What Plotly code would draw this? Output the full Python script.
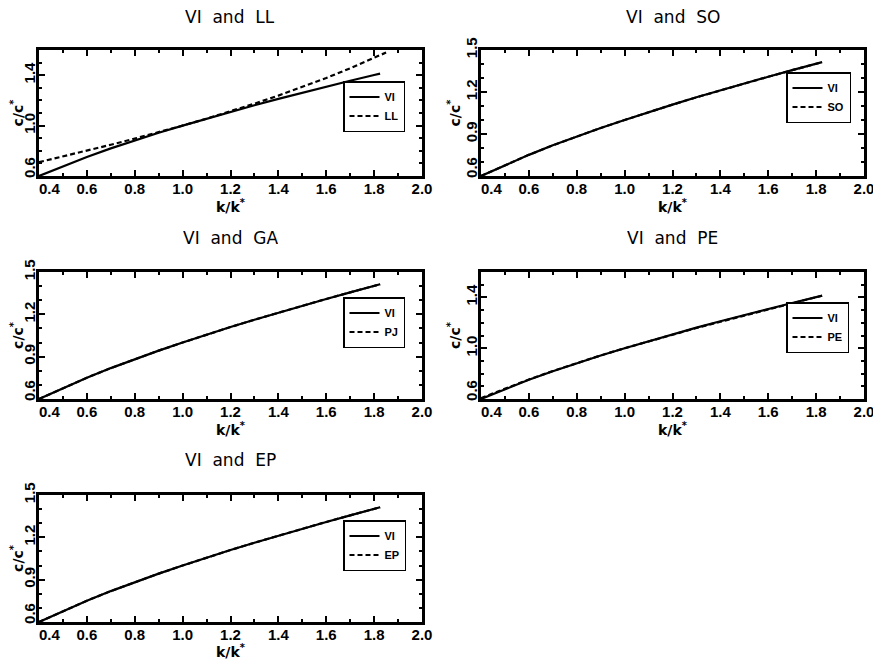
import plotly.graph_objects as go

# page has an 8px body margin: figure occupies the window minus that offset
OFF = 8
W, H = 881 - OFF, 660 - OFF

# ---------------- data ----------------
k_vi = [0.40, 0.50, 0.60, 0.70, 0.80, 0.90, 1.00, 1.10, 1.20, 1.30, 1.40, 1.50, 1.60, 1.70, 1.80, 1.825]
c_vi = [0.600, 0.678, 0.751, 0.819, 0.883, 0.943, 1.000, 1.056, 1.110, 1.162, 1.212, 1.261, 1.309, 1.356, 1.402, 1.413]

k_ll = [0.40, 0.50, 0.60, 0.70, 0.80, 0.90, 1.00, 1.10, 1.20, 1.30, 1.40, 1.50, 1.60, 1.70, 1.80, 1.85]
c_ll = [0.710, 0.755, 0.801, 0.848, 0.897, 0.947, 1.000, 1.055, 1.113, 1.174, 1.238, 1.306, 1.378, 1.455, 1.537, 1.580]

k_so = [0.40, 0.50, 0.60, 0.70, 0.80, 0.90, 1.00, 1.10, 1.20, 1.30, 1.40, 1.50, 1.60, 1.70, 1.80, 1.825]
c_so = [0.600, 0.678, 0.751, 0.819, 0.883, 0.943, 1.000, 1.056, 1.110, 1.162, 1.212, 1.261, 1.309, 1.356, 1.402, 1.413]

k_pj = [0.40, 0.50, 0.60, 0.70, 0.80, 0.90, 1.00, 1.10, 1.20, 1.30, 1.40, 1.50, 1.60, 1.70, 1.80, 1.825]
c_pj = [0.600, 0.678, 0.751, 0.819, 0.883, 0.943, 1.000, 1.056, 1.110, 1.162, 1.212, 1.261, 1.309, 1.356, 1.402, 1.413]

k_pe = [0.40, 0.50, 0.60, 0.70, 0.80, 0.90, 1.00, 1.10, 1.20, 1.30, 1.40, 1.50, 1.60, 1.70, 1.80, 1.825]
c_pe = [0.607, 0.683, 0.754, 0.820, 0.883, 0.943, 1.000, 1.055, 1.108, 1.159, 1.208, 1.256, 1.303, 1.349, 1.398, 1.414]

k_ep = [0.40, 0.50, 0.60, 0.70, 0.80, 0.90, 1.00, 1.10, 1.20, 1.30, 1.40, 1.50, 1.60, 1.70, 1.80, 1.825]
c_ep = [0.600, 0.678, 0.751, 0.819, 0.883, 0.943, 1.000, 1.056, 1.110, 1.162, 1.212, 1.261, 1.309, 1.356, 1.402, 1.413]

titles = ["VI and LL", "VI and SO", "VI and GA", "VI and PE", "VI and EP"]
second_names = ["LL", "SO", "PJ", "PE", "EP"]
second_k = [k_ll, k_so, k_pj, k_pe, k_ep]
second_c = [c_ll, c_so, c_pj, c_pe, c_ep]

x_ticks = [0.4, 0.6, 0.8, 1.0, 1.2, 1.4, 1.6, 1.8, 2.0]
x_ticktext = ["\u00a0\u00a0\u00a0\u00a0\u00a00.4", "0.6", "0.8", "1.0", "1.2", "1.4", "1.6", "1.8", "2.0"]
y_ticks_a = [0.6, 1.0, 1.4]          # range 0.6-1.6
y_ticktext_a = ["\u00a0\u00a0\u00a00.6", "1.0", "1.4"]
y_ticks_b = [0.6, 0.9, 1.2, 1.5]     # range 0.6-1.5
y_ticktext_b = ["\u00a0\u00a0\u00a00.6", "0.9", "1.2", "1.5"]
y_ranges = [[0.6, 1.6], [0.6, 1.5], [0.6, 1.5], [0.6, 1.6], [0.6, 1.5]]
x_range = [0.4, 2.0]

# ---------------- layout geometry (window pixels) ----------------
boxes = [  # x0, x1, ytop, ybottom
    (39, 422, 50, 176),
    (481, 864, 50, 176),
    (39, 422, 272, 399),
    (481, 864, 272, 399),
    (39, 422, 495, 622),
]
title_y = [17, 17, 238, 238, 460]
legend_pos = [(343, 81), (786, 72), (343, 297), (786, 302), (343, 520)]


def px(x):
    return (x - OFF) / W


def py(y):
    return 1 - (y - OFF) / H


tickfont = dict(family="Liberation Sans, Arial, sans-serif", size=15, color="black", weight="bold")
axtitlefont = dict(family="DejaVu Sans, sans-serif", size=14, color="black", weight="bold")
titlefont = dict(family="DejaVu Sans, sans-serif", size=17, color="black")

fig = go.Figure()
layout = dict(
    width=W, height=H,
    margin=dict(l=0, r=0, t=0, b=0, pad=0, autoexpand=False),
    paper_bgcolor="white", plot_bgcolor="white",
    annotations=[],
)

for i in range(5):
    n = "" if i == 0 else str(i + 1)
    xa, ya = "x" + n, "y" + n
    leg = "legend" + n
    x0, x1, yt, yb = boxes[i]

    fig.add_trace(go.Scatter(x=k_vi, y=c_vi, mode="lines", name="VI",
                             line=dict(color="black", width=2.2), xaxis=xa, yaxis=ya,
                             legend=leg, showlegend=True))
    fig.add_trace(go.Scatter(x=second_k[i], y=second_c[i], mode="lines", name=second_names[i],
                             line=dict(color="black", width=2.2, dash="5px,3px"), xaxis=xa, yaxis=ya,
                             legend=leg, showlegend=True))

    yr = y_ranges[i]
    if yr[1] > 1.55:
        yt_vals, yt_text = y_ticks_a, y_ticktext_a
    else:
        yt_vals, yt_text = y_ticks_b, y_ticktext_b

    layout["xaxis" + n] = dict(
        domain=[px(x0), px(x1)], anchor=ya, range=x_range, automargin=False,
        tickmode="array", tickvals=x_ticks, ticktext=x_ticktext,
        ticklabelstandoff=-3,
        ticks="inside", ticklen=6, tickwidth=1.5, tickcolor="black",
        minor=dict(tickmode="linear", tick0=0.4, dtick=0.1, ticks="inside", ticklen=3,
                   tickwidth=1.5, tickcolor="black", showgrid=False),
        showline=True, linewidth=2.5, linecolor="black", mirror="ticks",
        showgrid=False, zeroline=False, tickfont=tickfont,
        title=dict(text="k/k<sup>*</sup>", font=axtitlefont, standoff=3),
    )
    layout["yaxis" + n] = dict(
        domain=[py(yb), py(yt)], anchor=xa, range=yr, automargin=False,
        tickmode="array", tickvals=yt_vals, ticktext=yt_text, tickangle=-90,
        ticklabelstandoff=-5,
        ticks="inside", ticklen=6, tickwidth=1.5, tickcolor="black",
        minor=dict(tickmode="linear", tick0=0.6, dtick=0.1, ticks="inside", ticklen=3,
                   tickwidth=1.5, tickcolor="black", showgrid=False),
        showline=True, linewidth=2.5, linecolor="black", mirror="ticks",
        showgrid=False, zeroline=False, tickfont=tickfont,
        title=dict(text="c/c<sup>*</sup>", font=axtitlefont, standoff=0),
    )
    lx, ly = legend_pos[i]
    layout[leg] = dict(
        x=px(lx), y=py(ly), xanchor="left", yanchor="top",
        xref="paper", yref="paper",
        bgcolor="white", bordercolor="black", borderwidth=1.5,
        font=dict(family="Liberation Sans, Arial, sans-serif", size=11, color="black", weight="bold"),
        itemwidth=30, tracegroupgap=0,
    )
    layout["annotations"].append(dict(
        text=titles[i].replace(" ", "\u00a0\u00a0"), x=px((x0 + x1) / 2), y=py(title_y[i]),
        xref="paper", yref="paper", xanchor="center", yanchor="middle", height=18,
        showarrow=False, font=titlefont,
    ))

fig.update_layout(**layout)
fig.write_html("out.html")
